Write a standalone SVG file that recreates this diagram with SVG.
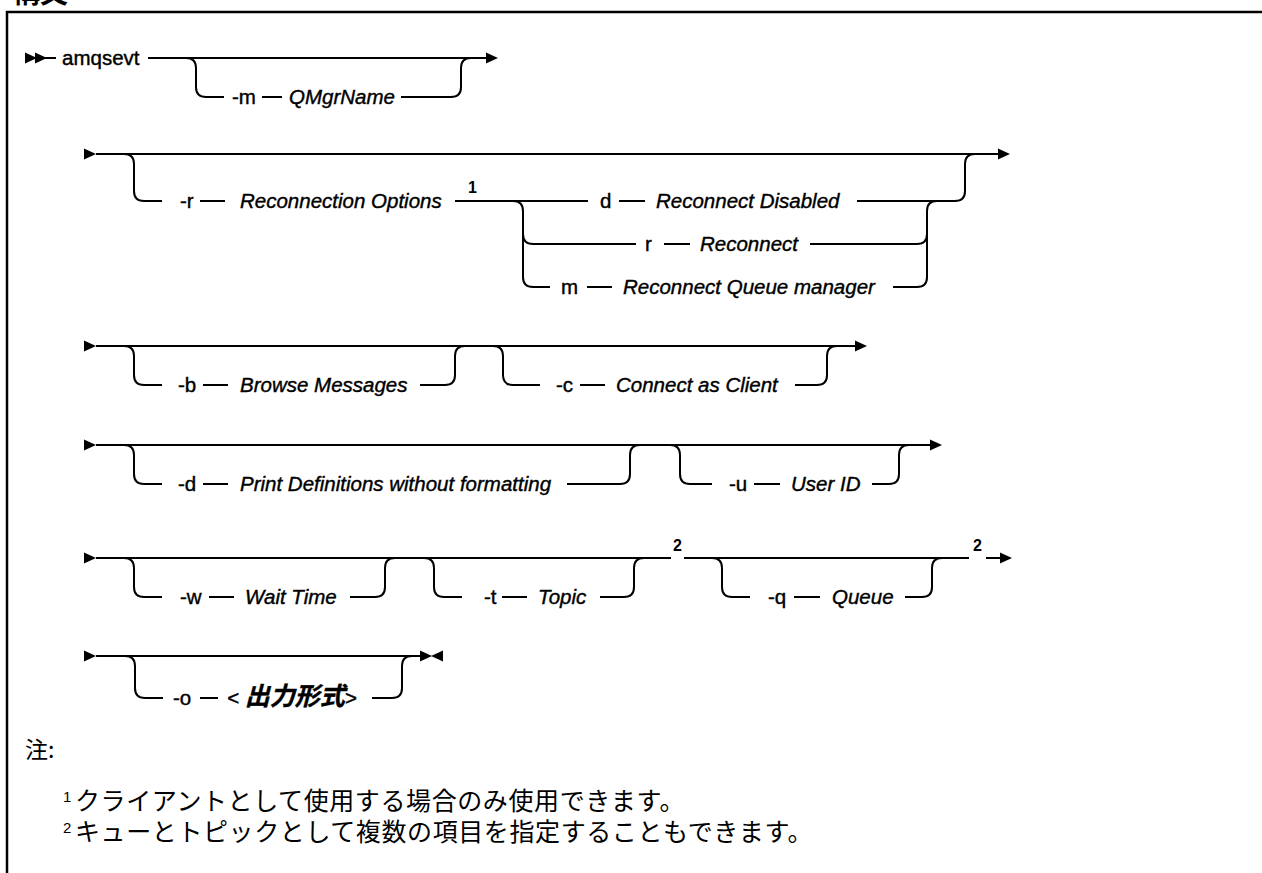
<svg xmlns="http://www.w3.org/2000/svg" width="1262" height="873" viewBox="0 0 1262 873">
<style>
.ln{fill:none;stroke:#000;stroke-width:2}
.t{font-family:"Liberation Sans",Arial,"Noto Sans CJK JP",sans-serif;font-size:20.5px;fill:#000;stroke:#000;stroke-width:0.4}
.v{font-style:italic}
.sup{font-family:"Liberation Sans",Arial,sans-serif;font-size:16px;font-weight:bold;fill:#000}
.note{font-family:"Noto Sans CJK JP",sans-serif;font-size:25px;letter-spacing:0.6px;fill:#000}
.nsup{font-family:"Liberation Sans",Arial,sans-serif;font-size:15px;fill:#000}
</style>
<defs>
<path id="st" d="M0,-5.5 L12,0 L0,5.5 Z" fill="#000"/>
<path id="ar" d="M0,0 L-12,-5.5 L-12,5.5 Z" fill="#000"/>
<path id="bk" d="M0,0 L12,-5.5 L12,5.5 Z" fill="#000"/>
</defs>
<rect width="1262" height="873" fill="#fff"/>
<text x="12" y="3" style="font-family:'Noto Sans CJK JP',sans-serif;font-size:28px;font-weight:bold">構文</text>
<path d="M7,873 V12 H1262" fill="none" stroke="#000" stroke-width="2.5"/>

<g id="connectors">
<!-- row 1 -->
<use href="#st" x="25" y="58"/><use href="#st" x="35" y="58"/>
<path class="ln" d="M45,58 H56"/>
<path class="ln" d="M148,58 H487"/>
<use href="#ar" x="498" y="58"/>
<path class="ln" d="M186,58 Q196,58 196,68 V87 Q196,97 206,97 H224"/>
<path class="ln" d="M262,97 H282"/>
<path class="ln" d="M401,97 H451 Q461,97 461,87 V68 Q461,58 471,58"/>
<!-- row 2 -->
<use href="#st" x="84" y="154"/>
<path class="ln" d="M96,154 H999"/>
<use href="#ar" x="1010" y="154"/>
<path class="ln" d="M124,154 Q134,154 134,164 V191 Q134,201 144,201 H162"/>
<path class="ln" d="M200,201 H225"/>
<path class="ln" d="M455,201 H588"/>
<path class="ln" d="M513,201 Q523,201 523,211 V277 Q523,287 533,287 H550"/>
<path class="ln" d="M523,234 Q523,244 533,244 H636"/>
<path class="ln" d="M619,201 H645"/>
<path class="ln" d="M857,201 H955 Q965,201 965,191 V164 Q965,154 975,154"/>
<path class="ln" d="M664,244 H690"/>
<path class="ln" d="M810,244 H917 Q927,244 927,234"/>
<path class="ln" d="M587,287 H612"/>
<path class="ln" d="M893,287 H917 Q927,287 927,277 V211 Q927,201 937,201"/>
<!-- row 3 -->
<use href="#st" x="84" y="346"/>
<path class="ln" d="M96,346 H856"/>
<use href="#ar" x="867" y="346"/>
<path class="ln" d="M124,346 Q134,346 134,356 V375 Q134,385 144,385 H162"/>
<path class="ln" d="M203,385 H228"/>
<path class="ln" d="M420,385 H445 Q455,385 455,375 V356 Q455,346 465,346"/>
<path class="ln" d="M493,346 Q503,346 503,356 V375 Q503,385 513,385 H540"/>
<path class="ln" d="M580,385 H605"/>
<path class="ln" d="M795,385 H817 Q827,385 827,375 V356 Q827,346 837,346"/>
<!-- row 4 -->
<use href="#st" x="84" y="445"/>
<path class="ln" d="M96,445 H931"/>
<use href="#ar" x="942" y="445"/>
<path class="ln" d="M124,445 Q134,445 134,455 V474 Q134,484 144,484 H162"/>
<path class="ln" d="M203,484 H228"/>
<path class="ln" d="M567,484 H620 Q630,484 630,474 V455 Q630,445 640,445"/>
<path class="ln" d="M670,445 Q680,445 680,455 V474 Q680,484 690,484 H712"/>
<path class="ln" d="M754,484 H780"/>
<path class="ln" d="M872,484 H889 Q899,484 899,474 V455 Q899,445 909,445"/>
<!-- row 5 -->
<use href="#st" x="84" y="558"/>
<path class="ln" d="M96,558 H671 M684,558 H969 M986,558 H1001"/>
<use href="#ar" x="1012" y="558"/>
<path class="ln" d="M124,558 Q134,558 134,568 V587 Q134,597 144,597 H162"/>
<path class="ln" d="M209,597 H234"/>
<path class="ln" d="M350,597 H375 Q385,597 385,587 V568 Q385,558 395,558"/>
<path class="ln" d="M424,558 Q434,558 434,568 V587 Q434,597 444,597 H462"/>
<path class="ln" d="M502,597 H527"/>
<path class="ln" d="M600,597 H624 Q634,597 634,587 V568 Q634,558 644,558"/>
<path class="ln" d="M712,558 Q722,558 722,568 V587 Q722,597 732,597 H750"/>
<path class="ln" d="M794,597 H820"/>
<path class="ln" d="M905,597 H922 Q932,597 932,587 V568 Q932,558 942,558"/>
<!-- row 6 -->
<use href="#st" x="84" y="656"/>
<path class="ln" d="M96,656 H420"/>
<use href="#st" x="420" y="656"/><use href="#bk" x="431" y="656"/>
<path class="ln" d="M125,656 Q135,656 135,666 V688 Q135,698 145,698 H163"/>
<path class="ln" d="M200,698 H218"/>
<path class="ln" d="M372,698 H392 Q402,698 402,688 V666 Q402,656 412,656"/>
</g>

<g id="n-amqsevt"><text class="t" x="62" y="65">amqsevt</text></g>
<g id="n-m"><text class="t" x="232" y="104">-m</text><text class="t v" x="289" y="104">QMgrName</text></g>
<g id="n-r"><text class="t" x="180" y="208">-r</text><text class="t v" x="240" y="208">Reconnection Options</text><text class="sup" x="468" y="193">1</text></g>
<g id="n-rd"><text class="t" x="600" y="208">d</text><text class="t v" x="656" y="208">Reconnect Disabled</text></g>
<g id="n-rr"><text class="t" x="645" y="251">r</text><text class="t v" x="700" y="251">Reconnect</text></g>
<g id="n-rm"><text class="t" x="561" y="294">m</text><text class="t v" x="623" y="294">Reconnect Queue manager</text></g>
<g id="n-b"><text class="t" x="178" y="392">-b</text><text class="t v" x="240" y="392">Browse Messages</text></g>
<g id="n-c"><text class="t" x="556" y="392">-c</text><text class="t v" x="616" y="392">Connect as Client</text></g>
<g id="n-d"><text class="t" x="178" y="491">-d</text><text class="t v" x="240" y="491">Print Definitions without formatting</text></g>
<g id="n-u"><text class="t" x="729" y="491">-u</text><text class="t v" x="791" y="491">User ID</text></g>
<g id="n-w"><text class="t" x="180" y="604">-w</text><text class="t v" x="245" y="604">Wait Time</text></g>
<g id="n-t"><text class="t" x="484" y="604">-t</text><text class="t v" x="538" y="604">Topic</text></g>
<g id="n-sup2a"><text class="sup" x="673" y="551">2</text></g>
<g id="n-q"><text class="t" x="768" y="604">-q</text><text class="t v" x="832" y="604">Queue</text></g>
<g id="n-sup2b"><text class="sup" x="973" y="551">2</text></g>
<g id="n-o"><text class="t" x="173" y="705">-o</text><text class="t v" x="227" y="705">&lt; <tspan style="font-family:'Noto Sans CJK JP',sans-serif;font-size:25px;font-weight:bold">出力形式</tspan>&gt;</text></g>

<g id="notes">
<text class="note" x="25" y="758" style="font-size:23px;letter-spacing:0">注:</text>
<text class="nsup" x="63" y="802">1</text><text class="note" x="75" y="810">クライアントとして使用する場合のみ使用できます。</text>
<text class="nsup" x="63" y="833">2</text><text class="note" x="75" y="841">キューとトピックとして複数の項目を指定することもできます。</text>
</g>
</svg>
